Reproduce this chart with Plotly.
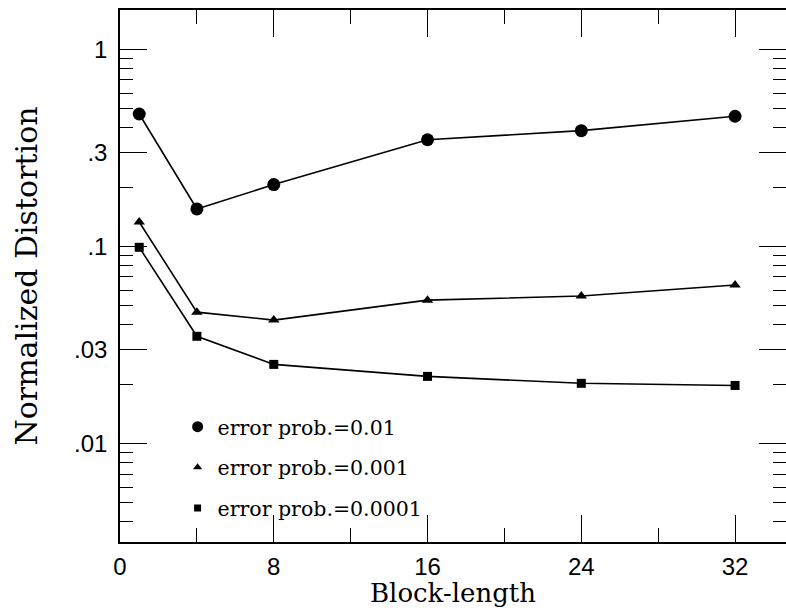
import plotly.graph_objects as go

block_length = [1, 4, 8, 16, 24, 32]
dist_p01 = [0.47, 0.155, 0.206, 0.348, 0.387, 0.458]
dist_p001 = [0.133, 0.0464, 0.0423, 0.0534, 0.056, 0.0637]
dist_p0001 = [0.099, 0.035, 0.0252, 0.0219, 0.0202, 0.0197]
series_names = ["error prob.=0.01", "error prob.=0.001", "error prob.=0.0001"]
series_symbols = ["circle", "triangle-up", "square"]
series_sizes = [13, 10, 9]

ytick_vals = [0.01, 0.03, 0.1, 0.3, 1]
ytick_text = [".01", ".03", ".1", ".3", "1"]
xtick_vals = [0, 8, 16, 24, 32]

serif = "DejaVu Serif"
sans = "Liberation Sans"

fig = go.Figure()
for ys, name, sym, sz in zip([dist_p01, dist_p001, dist_p0001], series_names, series_symbols, series_sizes):
    fig.add_trace(go.Scatter(
        x=block_length, y=ys, mode="lines+markers", showlegend=False,
        line=dict(color="black", width=1.6),
        marker=dict(symbol=sym, size=sz, color="black"),
    ))
for i, (name, sym, sz) in enumerate(zip(series_names, series_symbols, series_sizes)):
    fig.add_trace(go.Scatter(
        x=[None], y=[None], mode="markers", name=name, legendgroup=f"g{i}",
        marker=dict(symbol=sym, size=sz - 2, color="black"),
    ))
# right-side ticks
fig.add_trace(go.Scatter(x=[None], y=[None], yaxis="y2", showlegend=False, hoverinfo="skip"))

yrange = [-2.5, 0.2]
fig.update_layout(
    width=786, height=608,
    margin=dict(l=120, r=0, t=10, b=66),
    paper_bgcolor="white", plot_bgcolor="white",
    font=dict(family=serif, color="black"),
    showlegend=True,
    legend=dict(
        x=0.0865, y=0.254, xanchor="left", yanchor="top",
        bgcolor="rgba(0,0,0,0)", font=dict(family=serif, size=20.5, color="black"),
        traceorder="grouped", tracegroupgap=11, itemwidth=30,
    ),
    xaxis=dict(
        range=[0, 34.65], tickvals=xtick_vals, ticks="inside", ticklen=27, tickwidth=1,
        tickcolor="black", showline=True, linecolor="black", linewidth=1.5, mirror="ticks",
        showgrid=False, zeroline=False,
        minor=dict(dtick=4, tick0=0, ticks="inside", ticklen=14, tickcolor="black", showgrid=False),
        tickfont=dict(family=sans, size=24), ticklabelstandoff=2,
        title=dict(text="Block-length", font=dict(family=serif, size=26), standoff=1),
    ),
    yaxis=dict(
        type="log", range=yrange, tickvals=ytick_vals, ticktext=ytick_text,
        ticks="inside", ticklen=27, tickwidth=1, tickcolor="black",
        showline=True, linecolor="black", linewidth=1.5, mirror=False,
        showgrid=False, zeroline=False,
        minor=dict(dtick="D1", ticks="inside", ticklen=13, tickcolor="black", showgrid=False),
        tickfont=dict(family=sans, size=24), ticklabelstandoff=6,
        title=dict(text="Normalized Distortion", font=dict(family=serif, size=30), standoff=28),
    ),
    yaxis2=dict(
        type="log", range=yrange, overlaying="y", side="right", anchor="x",
        tickvals=ytick_vals, showticklabels=False,
        ticks="inside", ticklen=27, tickwidth=1, tickcolor="black",
        showline=False, showgrid=False, zeroline=False,
        minor=dict(dtick="D1", ticks="inside", ticklen=13, tickcolor="black", showgrid=False),
    ),
)
fig.write_html("out.html")
